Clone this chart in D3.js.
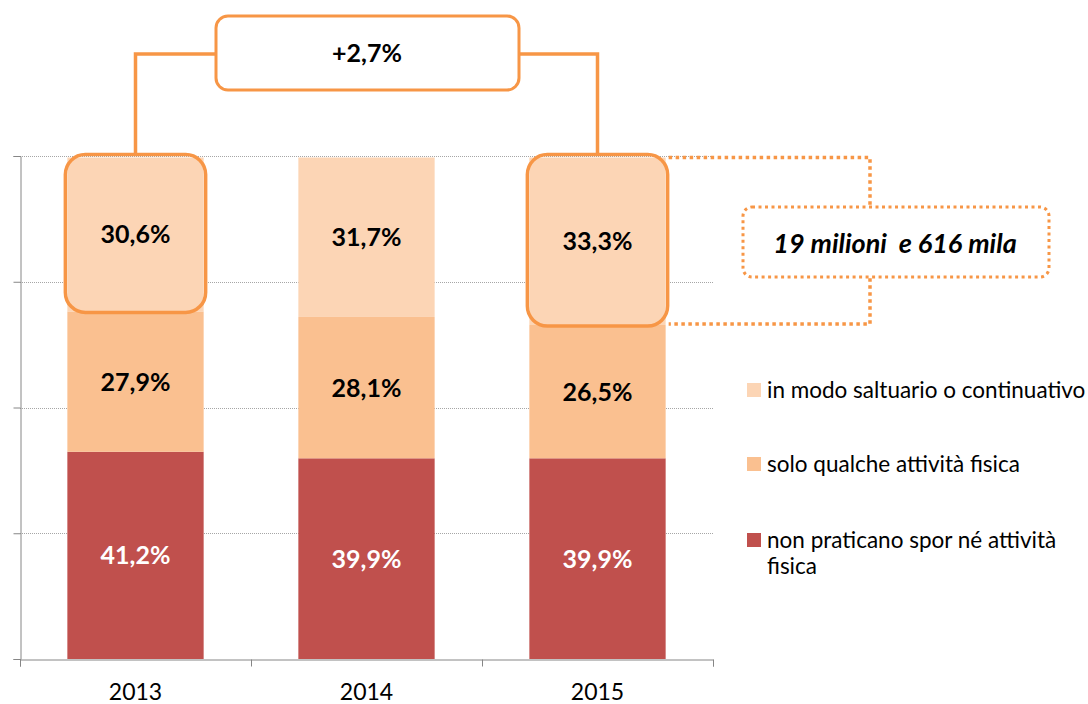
<!DOCTYPE html>
<html>
<head>
<meta charset="utf-8">
<script src="https://cdn.jsdelivr.net/npm/d3@7"></script>
<style>
  body { margin: 0; background: #fff; }
  svg { font-family: Lato, "Open Sans", sans-serif; }
</style>
</head>
<body>
<svg id="chart" width="1088" height="704"></svg>
<script>
// data
var years = ["2013", "2014", "2015"];
var seriesNames = ["non praticano spor né attività fisica", "solo qualche attività fisica", "in modo saltuario o continuativo"];
var nonPraticano = [41.2, 39.9, 39.9];
var qualcheAttivita = [27.9, 28.1, 26.5];
var saltuario = [30.6, 31.7, 33.3];
var yTicks = [0, 25, 50, 75, 100];
var growthLabel = "+2,7%";
var totalLabel = "19 milioni  e 616 mila";

var colors = ["#C0504D", "#FAC090", "#FCD5B5"];
var orange = "#F79646";

var svg = d3.select("#chart");

var x = d3.scaleBand().domain(years).range([20, 713]).paddingInner(0.41).paddingOuter(0.205);
var y = d3.scaleLinear().domain([0, 100]).range([659, 156]);

// table for stack
var table = years.map(function(yr, i) {
  return { year: yr, s0: nonPraticano[i], s1: qualcheAttivita[i], s2: saltuario[i] };
});
var stack = d3.stack().keys(["s0", "s1", "s2"])(table);

// gridlines
svg.append("g")
  .selectAll("line")
  .data(yTicks.slice(1))
  .enter().append("line")
  .attr("x1", 20).attr("x2", 713)
  .attr("y1", function(d) { return Math.round(y(d)) + 0.5; })
  .attr("y2", function(d) { return Math.round(y(d)) + 0.5; })
  .attr("stroke", "#a6a6a6")
  .attr("stroke-width", 1)
  .attr("stroke-dasharray", "1,1");

// bars
var layers = svg.append("g").selectAll("g")
  .data(stack)
  .enter().append("g")
  .attr("fill", function(d, i) { return colors[i]; });

layers.selectAll("rect")
  .data(function(d) { return d; })
  .enter().append("rect")
  .attr("x", function(d) { return x(d.data.year); })
  .attr("width", x.bandwidth())
  .attr("y", function(d) { return y(d[1]); })
  .attr("height", function(d) { return y(d[0]) - y(d[1]); });

// value labels
stack.forEach(function(layer, li) {
  svg.append("g").selectAll("text")
    .data(layer)
    .enter().append("text")
    .attr("x", function(d) { return x(d.data.year) + x.bandwidth() / 2; })
    .attr("y", function(d) { return (y(d[0]) + y(d[1])) / 2; })
    .attr("dy", "0.36em")
    .attr("text-anchor", "middle")
    .attr("font-size", 25)
    .attr("font-weight", "bold")
    .attr("fill", li === 0 ? "#fff" : "#000")
    .text(function(d) { return d3.format(".1f")(d[1] - d[0]).replace(".", ",") + "%"; });
});

// axes
var yAxis = svg.append("g")
  .attr("transform", "translate(20.5,0)")
  .call(d3.axisLeft(y).tickValues(yTicks).tickSize(7).tickFormat(""));
yAxis.select(".domain").attr("stroke", "#868686");
yAxis.selectAll(".tick line").attr("stroke", "#868686");

var xAxis = svg.append("g")
  .attr("transform", "translate(0,659.5)")
  .call(d3.axisBottom(d3.scaleLinear().domain([0, 3]).range([20, 713])).ticks(3).tickSize(7).tickFormat(""));
xAxis.select(".domain").attr("stroke", "#868686");
xAxis.selectAll(".tick line").attr("stroke", "#868686");

svg.append("g").selectAll("text")
  .data(years)
  .enter().append("text")
  .attr("x", function(d) { return x(d) + x.bandwidth() / 2; })
  .attr("y", 700)
  .attr("text-anchor", "middle")
  .attr("font-size", 23)
  .attr("fill", "#000")
  .text(function(d) { return d; });

// highlight boxes around top segment of 2013 and 2015
var topLayer = stack[2];
var hi = [topLayer[0], topLayer[2]];
svg.append("g").selectAll("rect")
  .data(hi)
  .enter().append("rect")
  .attr("x", function(d) { return x(d.data.year) - 2; })
  .attr("width", x.bandwidth() + 4)
  .attr("y", function(d) { return y(d[1]) - 3; })
  .attr("height", function(d) { return y(d[0]) - y(d[1]) + 4; })
  .attr("rx", 20)
  .attr("fill", "none")
  .attr("stroke", orange)
  .attr("stroke-width", 3.5);

// connector with growth label
var cx13 = x("2013") + x.bandwidth() / 2;
var cx15 = x("2015") + x.bandwidth() / 2;
var connY = 54;
svg.append("path")
  .attr("d", "M" + cx13 + "," + (y(hi[0][1]) - 3) + "V" + connY + "H" + cx15 + "V" + (y(hi[1][1]) - 3))
  .attr("fill", "none")
  .attr("stroke", orange)
  .attr("stroke-width", 3.5);
svg.append("rect")
  .attr("x", 216).attr("y", 16).attr("width", 303).attr("height", 74)
  .attr("rx", 12)
  .attr("fill", "#fff")
  .attr("stroke", orange)
  .attr("stroke-width", 3);
svg.append("text")
  .attr("x", 367).attr("y", 53).attr("dy", "0.36em")
  .attr("text-anchor", "middle")
  .attr("font-size", 25)
  .attr("font-weight", "bold")
  .text(growthLabel);

// dotted bracket to total label
var bx0 = x("2015") + x.bandwidth() + 3;
var bTop = y(hi[1][1]);
var bBot = y(hi[1][0]) - 1;
svg.append("path")
  .attr("d", "M" + bx0 + "," + bTop + "H870V" + bBot + "H" + bx0)
  .attr("fill", "none")
  .attr("stroke", orange)
  .attr("stroke-width", 3.5)
  .attr("stroke-dasharray", "3.5,3.5");
svg.append("rect")
  .attr("x", 743).attr("y", 207).attr("width", 306).attr("height", 70)
  .attr("rx", 9)
  .attr("fill", "#fff")
  .attr("stroke", orange)
  .attr("stroke-width", 3)
  .attr("stroke-dasharray", "3,3.5");
svg.append("text")
  .attr("x", 895).attr("y", 243).attr("dy", "0.36em")
  .attr("text-anchor", "middle")
  .attr("font-size", 27)
  .attr("font-weight", "bold")
  .attr("font-style", "italic")
  .style("white-space", "pre")
  .text(totalLabel);

// legend
var legendY = [540, 464, 390];
var legend = svg.append("g").selectAll("g")
  .data(seriesNames)
  .enter().append("g")
  .attr("transform", function(d, i) { return "translate(747," + legendY[i] + ")"; });
legend.append("rect")
  .attr("x", 0).attr("y", -7).attr("width", 14).attr("height", 14)
  .attr("fill", function(d, i) { return colors[i]; });
legend.append("text")
  .attr("x", 20).attr("y", 0)
  .attr("font-size", 22.5)
  .attr("fill", "#000")
  .each(function(d) {
    var t = d3.select(this);
    var parts = d === seriesNames[0] ? ["non praticano spor né attività", "fisica"] : [d];
    parts.forEach(function(p, k) {
      t.append("tspan").attr("x", 20).attr("dy", k === 0 ? "0.36em" : 26).text(p);
    });
  });
</script>
</body>
</html>
